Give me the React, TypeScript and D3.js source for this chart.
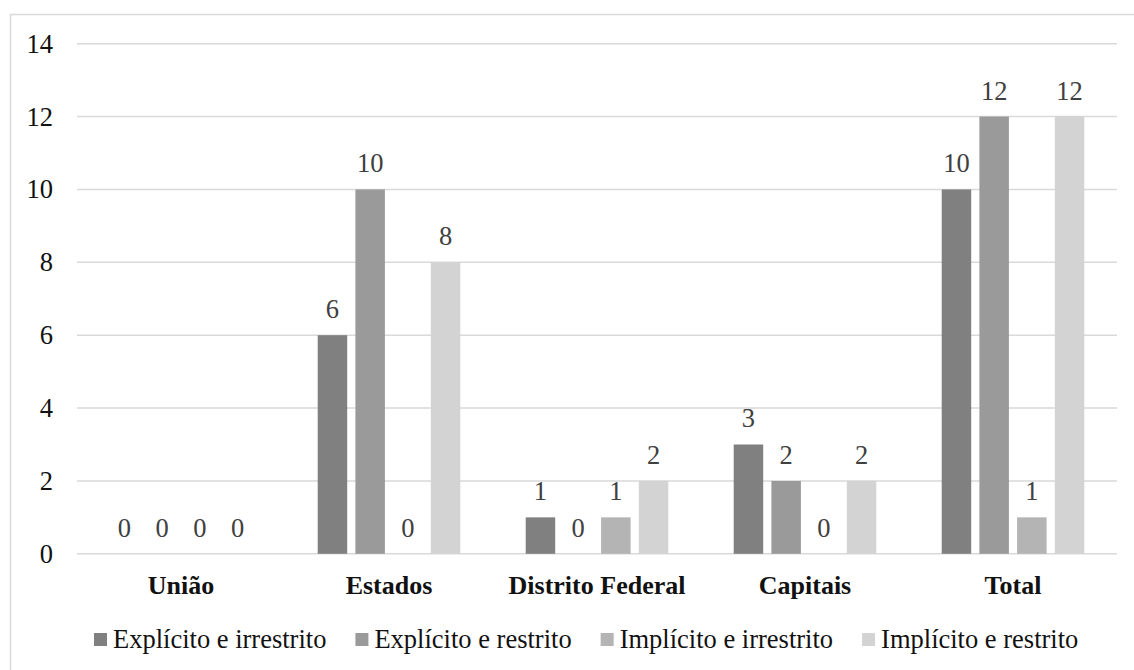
import React, { useEffect, useRef } from "react";
import * as d3 from "d3";

const categories = ["União", "Estados", "Distrito Federal", "Capitais", "Total"];
const seriesNames = [
  "Explícito e irrestrito",
  "Explícito e restrito",
  "Implícito e irrestrito",
  "Implícito e restrito",
];
const explicitoIrrestrito = [0, 6, 1, 3, 10];
const explicitoRestrito = [0, 10, 0, 2, 12];
const implicitoIrrestrito = [0, 0, 1, 0, 1];
const implicitoRestrito = [0, 8, 2, 2, 12];
const seriesColors = ["#808080", "#9a9a9a", "#b4b4b4", "#d3d3d3"];
const yTicks = [0, 2, 4, 6, 8, 10, 12, 14];

const W = 1134;
const H = 670;
const FONT = "Liberation Serif, Times New Roman, Tinos, DejaVu Serif, serif";

export default function App() {
  const ref = useRef<SVGSVGElement | null>(null);

  useEffect(() => {
    const svg = d3.select(ref.current);
    svg.selectAll("*").remove();

    const seriesValues = [explicitoIrrestrito, explicitoRestrito, implicitoIrrestrito, implicitoRestrito];

    svg.append("rect")
      .attr("x", 10.5).attr("y", 14.5)
      .attr("width", W + 20).attr("height", H + 20)
      .attr("fill", "#fff").attr("stroke", "#d9d9d9").attr("stroke-width", 1.5);

    const x = d3.scaleBand<string>().domain(categories).range([77, 1117]).paddingInner(0).paddingOuter(0);
    const y = d3.scaleLinear().domain([0, 14]).range([553.8, 43.7]);
    const half = 75.4;
    const xs = d3.scaleBand<string>().domain(seriesNames).range([-half, half])
      .paddingInner(0.2175).paddingOuter(0.10875);

    svg.append("g").selectAll("line").data(yTicks).join("line")
      .attr("x1", 77).attr("x2", 1117)
      .attr("y1", (d) => y(d)).attr("y2", (d) => y(d))
      .attr("stroke", "#d9d9d9").attr("stroke-width", 1.5);

    svg.append("g").selectAll("text").data(yTicks).join("text")
      .attr("x", 53).attr("y", (d) => y(d))
      .attr("dy", "0.34em")
      .attr("text-anchor", "end")
      .style("font-family", FONT).style("font-size", "26.5px").attr("fill", "#111")
      .text((d) => String(d));

    seriesNames.forEach((s, si) => {
      const g = svg.append("g");
      const vals = seriesValues[si];
      g.selectAll("rect").data(categories).join("rect")
        .attr("x", (c) => (x(c) as number) + x.bandwidth() / 2 + (xs(s) as number))
        .attr("width", xs.bandwidth())
        .attr("y", (c, i) => y(vals[i]))
        .attr("height", (c, i) => y(0) - y(vals[i]))
        .attr("fill", seriesColors[si]);
      g.selectAll("text").data(categories).join("text")
        .attr("x", (c) => (x(c) as number) + x.bandwidth() / 2 + (xs(s) as number) + xs.bandwidth() / 2)
        .attr("y", (c, i) => y(vals[i]) - 17)
        .attr("text-anchor", "middle")
        .style("font-family", FONT).style("font-size", "26.5px").attr("fill", "#404040")
        .text((c, i) => String(vals[i]));
    });

    svg.append("g").selectAll("text").data(categories).join("text")
      .attr("x", (c) => (x(c) as number) + x.bandwidth() / 2)
      .attr("y", 594)
      .attr("text-anchor", "middle")
      .style("font-family", FONT).style("font-size", "26px").style("font-weight", "bold").attr("fill", "#111")
      .text((c) => c);

    const lg = svg.append("g");
    let cx = 94;
    seriesNames.forEach((s, si) => {
      lg.append("rect").attr("x", cx).attr("y", 633).attr("width", 13).attr("height", 13)
        .attr("fill", seriesColors[si]);
      const t = lg.append("text").attr("x", cx + 19).attr("y", 648)
        .style("font-family", FONT).style("font-size", "26.5px").attr("fill", "#111")
        .text(s);
      const w = (t.node() as SVGTextElement).getComputedTextLength();
      cx = cx + 19 + w + 29;
    });
  }, []);

  return (
    <svg
      ref={ref}
      width={W}
      height={H}
      style={{ position: "absolute", left: 0, top: 0, background: "#fff" }}
    />
  );
}
